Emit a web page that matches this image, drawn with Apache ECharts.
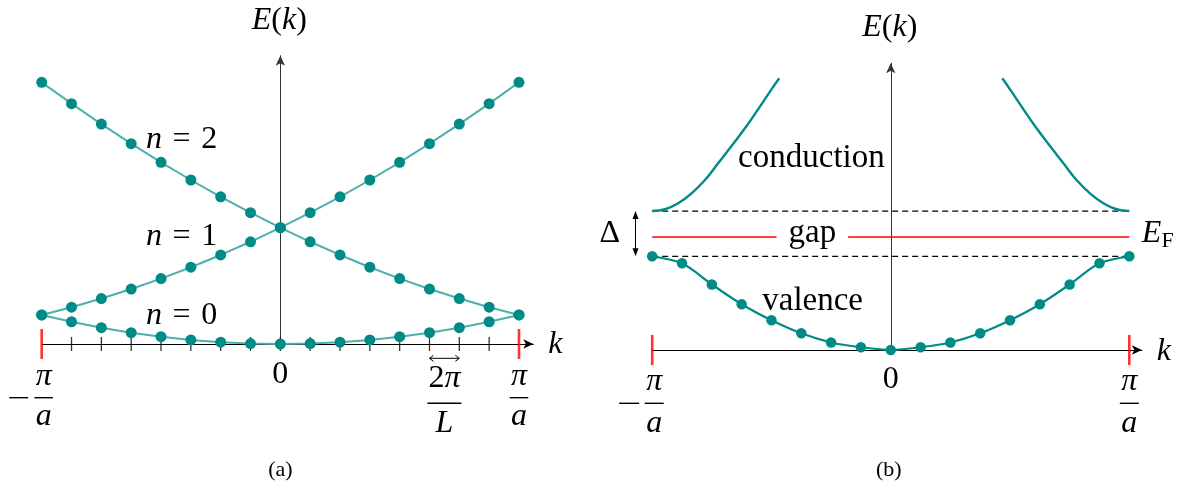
<!DOCTYPE html>
<html>
<head>
<meta charset="utf-8">
<script src="https://cdn.jsdelivr.net/npm/echarts@6/dist/echarts.min.js"></script>
<style>
  html, body { margin: 0; padding: 0; background: #fff; }
  #chart { width: 1188px; height: 493px; }
</style>
</head>
<body>
<div id="chart"></div>
<script>
// ---- (a) free-electron bands folded into the first zone; k in units of 2π/L, π/a = 8 ----
const kGrid   = [-8, -7, -6, -5, -4, -3, -2, -1, 0, 1, 2, 3, 4, 5, 6, 7, 8];
const bandN0  = [64, 49, 36, 25, 16, 9, 4, 1, 0, 1, 4, 9, 16, 25, 36, 49, 64];
const bandN1  = [64, 81, 100, 121, 144, 169, 196, 225, 256, 289, 324, 361, 400, 441, 484, 529, 576];
const bandN2  = [576, 529, 484, 441, 400, 361, 324, 289, 256, 225, 196, 169, 144, 121, 100, 81, 64];
const tickK   = [-7, -6, -5, -4, -3, -2, -1, 0, 1, 2, 3, 4, 5, 6, 7];
const zoneEdges = [-8, 8];

// ---- (b) insulator: valence band below, conduction band above the gap ----
const valenceE   = [1.0, 0.925, 0.70, 0.488, 0.317, 0.178, 0.08, 0.029, 0.0, 0.029, 0.08, 0.178, 0.317, 0.488, 0.70, 0.925, 1.0];
const condLeftK  = [-8, -7.57, -7.13, -6.68, -6.23, -5.79, -5.34, -4.89, -4.45, -4.0, -3.74];
const condLeftE  = [1.483, 1.502, 1.566, 1.672, 1.814, 1.993, 2.177, 2.366, 2.569, 2.782, 2.90];
const condRightK = [3.74, 4.0, 4.45, 4.89, 5.34, 5.79, 6.23, 6.68, 7.13, 7.57, 8];
const condRightE = [2.90, 2.782, 2.569, 2.366, 2.177, 1.993, 1.814, 1.672, 1.566, 1.502, 1.483];
const valenceTop = 1.0;
const conductionBottom = 1.483;
const fermiLevel = 1.206;
const gapLabelSpan = [-3.83, -1.43];

const FF = "'Liberation Serif', 'DejaVu Serif', serif";
const TEAL = '#008b87';
const TEAL_LIGHT = '#4cb0aa';
const RED = '#ff0000';

const pairs = (xs, ys) => xs.map((x, i) => [x, ys[i]]);

const chart = echarts.init(document.getElementById('chart'), null, { renderer: 'canvas' });

function xAxisDef(grid, max) {
  return {
    gridIndex: grid, type: 'value', min: -8, max: max,
    axisLine: { onZero: true, symbol: ['none', 'arrow'], symbolSize: [7, 10],
                lineStyle: { color: '#000', width: 1 } },
    axisTick: { show: false }, axisLabel: { show: false }, splitLine: { show: false }
  };
}
function yAxisDef(grid, max) {
  return {
    gridIndex: grid, type: 'value', min: 0, max: max,
    axisLine: { onZero: true, symbol: ['none', 'arrow'], symbolSize: [7, 10],
                lineStyle: { color: '#333', width: 1 } },
    axisTick: { show: false }, axisLabel: { show: false }, splitLine: { show: false }
  };
}

function bandA(values) {
  return {
    type: 'line', xAxisIndex: 0, yAxisIndex: 0, clip: false, silent: true,
    data: pairs(kGrid, values),
    symbol: 'circle', symbolSize: 11, showAllSymbol: true,
    lineStyle: { color: TEAL_LIGHT, width: 2 },
    itemStyle: { color: TEAL }, z: 3
  };
}
function flatB(k0, k1, e, style) {
  return {
    type: 'line', xAxisIndex: 1, yAxisIndex: 1, clip: false, silent: true,
    data: [[k0, e], [k1, e]], symbol: 'none', lineStyle: style, z: 2
  };
}

chart.setOption({
  animation: false,
  grid: [
    { left: 41.7, top: 55.7, width: 16.48 * 29.83, height: 288.3 },
    { left: 652.2, top: 63.3, width: 16.42 * 29.82, height: 286.7 }
  ],
  xAxis: [xAxisDef(0, 8.48), xAxisDef(1, 8.42)],
  yAxis: [yAxisDef(0, 634.6), yAxisDef(1, 3.06)],
  series: [
    // (a) tick marks
    { type: 'scatter', xAxisIndex: 0, yAxisIndex: 0, clip: false, silent: true,
      data: tickK.map(k => [k, 0]), symbol: 'rect', symbolSize: [1.3, 14],
      itemStyle: { color: '#000' }, z: 1 },
    { type: 'scatter', xAxisIndex: 0, yAxisIndex: 0, clip: false, silent: true,
      data: zoneEdges.map(k => [k, 0]), symbol: 'rect', symbolSize: [2.6, 30],
      itemStyle: { color: RED }, z: 1 },
    bandA(bandN0), bandA(bandN1), bandA(bandN2),

    // (b) zone edges
    { type: 'scatter', xAxisIndex: 1, yAxisIndex: 1, clip: false, silent: true,
      data: zoneEdges.map(k => [k, 0]), symbol: 'rect', symbolSize: [2.6, 30],
      itemStyle: { color: RED }, z: 1 },
    // band edges and Fermi level
    flatB(-8, 8, conductionBottom, { color: '#000', width: 1.2, type: [6, 4] }),
    flatB(-8, 8, valenceTop, { color: '#000', width: 1.2, type: [6, 4] }),
    flatB(-8, gapLabelSpan[0], fermiLevel, { color: RED, width: 1.3 }),
    flatB(gapLabelSpan[1], 8, fermiLevel, { color: RED, width: 1.3 }),
    // conduction band
    { type: 'line', xAxisIndex: 1, yAxisIndex: 1, clip: false, silent: true,
      data: pairs(condLeftK, condLeftE), symbol: 'none', smooth: 0.4,
      lineStyle: { color: TEAL, width: 2.4 }, z: 3 },
    { type: 'line', xAxisIndex: 1, yAxisIndex: 1, clip: false, silent: true,
      data: pairs(condRightK, condRightE), symbol: 'none', smooth: 0.4,
      lineStyle: { color: TEAL, width: 2.4 }, z: 3 },
    // valence band
    { type: 'line', xAxisIndex: 1, yAxisIndex: 1, clip: false, silent: true,
      data: pairs(kGrid, valenceE), symbol: 'circle', symbolSize: 10.5, showAllSymbol: true,
      smooth: 0.3, lineStyle: { color: TEAL, width: 2.2 }, itemStyle: { color: TEAL }, z: 3 }
  ]
});

// ---- annotations ----
const px = (g, k, e) => chart.convertToPixel({ gridIndex: g }, [k, e]);

function mathStyle(size) {
  return { fontSize: size, fontFamily: FF, fontStyle: 'italic', fill: '#000' };
}
function romanStyle(size) {
  return { fontSize: size, fontFamily: FF, fontStyle: 'normal', fill: '#000' };
}
function txt(x, y, text, size, rich, align) {
  const base = romanStyle(size);
  return {
    type: 'text', x: x, y: y, silent: true, z: 10,
    style: Object.assign(base, { text: text, align: align || 'center', verticalAlign: 'middle', rich: rich || {} })
  };
}
function hbar(cx, y, w, h) {
  return { type: 'rect', silent: true, z: 10, shape: { x: cx - w / 2, y: y - (h || 1.4) / 2, width: w, height: h || 1.4 },
           style: { fill: '#000' } };
}
function triangle(tx, ty, dx, dy, len, wid) {
  const bx = tx - dx * len, by = ty - dy * len;
  const nx = -dy, ny = dx;
  return { type: 'polygon', silent: true, z: 10,
           shape: { points: [[tx, ty], [bx + nx * wid / 2, by + ny * wid / 2], [bx - nx * wid / 2, by - ny * wid / 2]] },
           style: { fill: '#000' } };
}
function chevron(tx, ty, dx, dy, len, wid) {
  const bx = tx - dx * len, by = ty - dy * len;
  const nx = -dy, ny = dx;
  return { type: 'polyline', silent: true, z: 10,
           shape: { points: [[bx + nx * wid / 2, by + ny * wid / 2], [tx, ty], [bx - nx * wid / 2, by - ny * wid / 2]] },
           style: { stroke: '#000', lineWidth: 1, fill: null } };
}

const M = 32;
const richMath = {
  i: mathStyle(M),
  r: romanStyle(M),
  ip: mathStyle(M)
};

const G = [];

// (a)
const a0 = px(0, 0, 0);
const aL = px(0, -8, 0);
const aR = px(0, 8, 0);
G.push(txt(a0[0] - 1, 21, '{ip|E}{r|(}{ip|k}{r|)}', M, richMath));
G.push(txt(px(0, 8.48, 0)[0] + 22, a0[1] + 1, '{i|k}', M, richMath));
G.push(txt(a0[0], a0[1] + 31, '0', M));
// -π/a
G.push(txt(aL[0] + 2, a0[1] + 33, '{i|π}', M, richMath));
G.push(hbar(aL[0] + 2, a0[1] + 53.7, 18.5));
G.push(hbar(aL[0] - 23, a0[1] + 53.7, 19));
G.push(txt(aL[0] + 2, a0[1] + 73, '{i|a}', M, richMath));
// π/a
G.push(txt(aR[0], a0[1] + 33, '{i|π}', M, richMath));
G.push(hbar(aR[0], a0[1] + 53.7, 18.5));
G.push(txt(aR[0], a0[1] + 73, '{i|a}', M, richMath));
// 2π/L with spacing arrow
const s5 = px(0, 5, 0), s6 = px(0, 6, 0);
const sMid = (s5[0] + s6[0]) / 2;
const arrY = a0[1] + 14.3;
G.push({ type: 'line', silent: true, z: 10, shape: { x1: s5[0], y1: arrY, x2: s6[0], y2: arrY }, style: { stroke: '#000', lineWidth: 1 } });
G.push(chevron(s5[0], arrY, -1, 0, 4, 6));
G.push(chevron(s6[0], arrY, 1, 0, 4, 6));
G.push(txt(sMid, a0[1] + 35, '{r|2}{i|π}', M, richMath));
G.push(hbar(sMid, a0[1] + 59.3, 34));
G.push(txt(sMid, a0[1] + 80, '{i|L}', M, richMath));
// band indices
const nLabels = [[-3.31, 451, '2'], [-3.31, 235.5, '1'], [-3.31, 61.6, '0']];
nLabels.forEach(([k, e, n]) => {
  const p = px(0, k, e);
  G.push(txt(p[0], p[1], '{i|n}{r|\u2004=\u2004' + n + '}', M, richMath));
});
G.push(txt(a0[0], 470, '(a)', 22));

// (b)
const b0 = px(1, 0, 0);
const bL = px(1, -8, 0);
const bR = px(1, 8, 0);
G.push(txt(b0[0] - 1, 28, '{ip|E}{r|(}{ip|k}{r|)}', M, richMath));
G.push(txt(px(1, 8.42, 0)[0] + 22, b0[1] + 2, '{i|k}', M, richMath));
G.push(txt(b0[0], b0[1] + 30, '0', M));
G.push(txt(bL[0] + 2, b0[1] + 32, '{i|π}', M, richMath));
G.push(hbar(bL[0] + 2, b0[1] + 53.3, 19));
G.push(hbar(bL[0] - 23, b0[1] + 53.3, 20));
G.push(txt(bL[0] + 2, b0[1] + 74, '{i|a}', M, richMath));
G.push(txt(bR[0], b0[1] + 32, '{i|π}', M, richMath));
G.push(hbar(bR[0], b0[1] + 53.3, 19));
G.push(txt(bR[0], b0[1] + 74, '{i|a}', M, richMath));

const pCond = px(1, -2.66, 2.05);
G.push(txt(pCond[0], pCond[1], 'conduction', 33));
const pVal = px(1, -2.62, 0.52);
G.push(txt(pVal[0], pVal[1], 'valence', 33));
const pGap = px(1, (gapLabelSpan[0] + gapLabelSpan[1]) / 2, 1.24);
G.push(txt(pGap[0], pGap[1], 'gap', 33));

// gap width Δ
const dTop = px(1, -8.56, conductionBottom);
const dBot = px(1, -8.56, valenceTop);
G.push({ type: 'line', silent: true, z: 10, shape: { x1: dTop[0], y1: dTop[1] + 6, x2: dBot[0], y2: dBot[1] - 6 }, style: { stroke: '#000', lineWidth: 1 } });
G.push(triangle(dTop[0], dTop[1], 0, -1, 8, 6));
G.push(triangle(dBot[0], dBot[1], 0, 1, 8, 6));
const pDelta = px(1, -9.42, 1.238);
G.push(txt(pDelta[0], pDelta[1], 'Δ', M));
const pEF = px(1, 8.42, 1.238);
G.push(txt(pEF[0], pEF[1], '{i|E}{sub|F}', M, {
  i: mathStyle(M),
  sub: Object.assign(romanStyle(22), { padding: [14, 0, 0, 0] })
}, 'left'));
G.push(txt(b0[0] - 2, 470, '(b)', 22));

chart.setOption({ graphic: G });
</script>
</body>
</html>
